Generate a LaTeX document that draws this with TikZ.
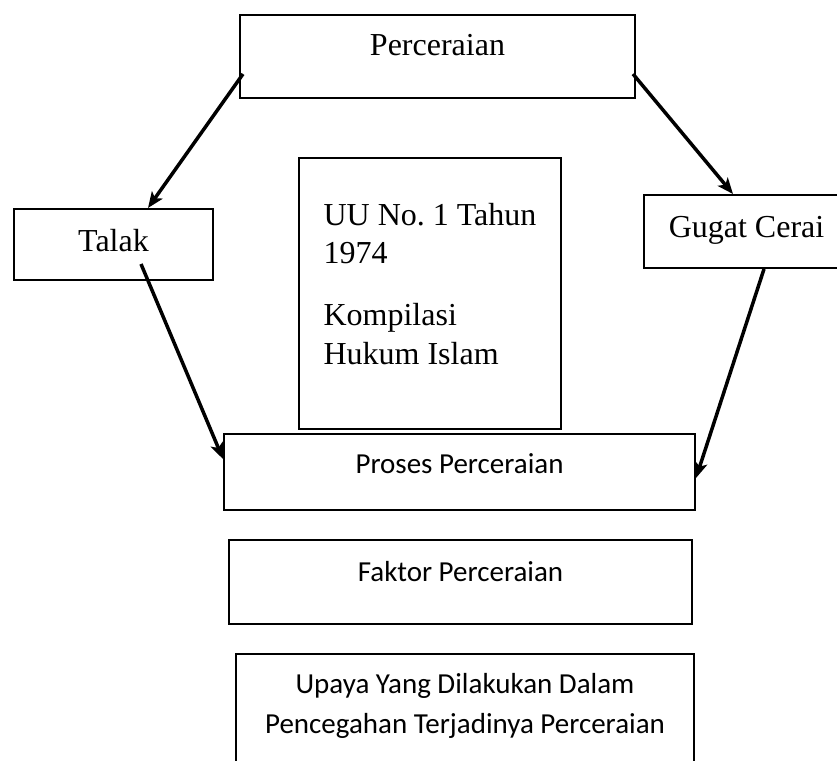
\documentclass[tikz,border=0pt]{standalone}
\usepackage{fontspec}
\setmainfont{Liberation Serif}
\newfontfamily\calibri{Carlito}
\usetikzlibrary{arrows.meta}
\frenchspacing

\begin{document}
\begin{tikzpicture}[x=1pt,y=-1pt,
    box/.style={draw,line width=2pt,inner sep=0,anchor=north west},
    serif/.style={font=\fontsize{32}{38.5}\selectfont},
    sans/.style={font=\calibri\fontsize{29}{40}\selectfont},
    arr/.style={line width=3.5pt,-{Stealth[length=16pt,width=13pt,inset=4pt]}}]
  \useasboundingbox (0,0) rectangle (837,760);

  % upper part, set in the serif face
  \node[box,serif,minimum width=395pt,minimum height=83pt,
        text height=41pt,text depth=42pt] (perc) at (239,14) {Perceraian};
  \node[box,serif,minimum width=199pt,minimum height=71pt,
        text height=42pt,text depth=29pt] (talak) at (13,208) {Talak};
  \node[box,serif,minimum width=205pt,minimum height=73pt,
        text height=42pt,text depth=31pt] (gugat) at (643,194) {Gugat Cerai};
  \node[box,serif,minimum width=262pt,minimum height=271pt,
        text height=67pt,text depth=204pt] (dasar) at (298,157)
        {\begin{tabular}[t]{@{}l@{}}UU No. 1 Tahun\\1974\\[23.5pt]Kompilasi\\Hukum Islam\end{tabular}};

  % lower part, set in the sans face
  \node[box,sans,minimum width=471pt,minimum height=76pt,
        text height=39pt,text depth=37pt] (proses) at (223,433) {Proses Perceraian};
  \node[box,sans,minimum width=463pt,minimum height=84pt,
        text height=41pt,text depth=43pt] (faktor) at (228,539) {Faktor Perceraian};
  \node[box,sans,minimum width=458pt,minimum height=137pt,
        text height=39pt,text depth=98pt] (upaya) at (235,653)
        {\begin{tabular}[t]{@{}c@{}}Upaya Yang Dilakukan Dalam\\Pencegahan Terjadinya Perceraian\end{tabular}};

  \draw[arr] ([xshift=4pt,yshift=25pt]perc.south west) -- ([xshift=135pt]talak.north west);
  \draw[arr] ([xshift=-3pt,yshift=25pt]perc.south east) -- ([xshift=90pt]gugat.north west);
  \draw[arr] ([xshift=128pt,yshift=17pt]talak.south west) -- ([yshift=13pt]proses.west);
  \draw[arr] ([xshift=121pt]gugat.south west) -- ([yshift=-6pt]proses.east);
\end{tikzpicture}
\end{document}
